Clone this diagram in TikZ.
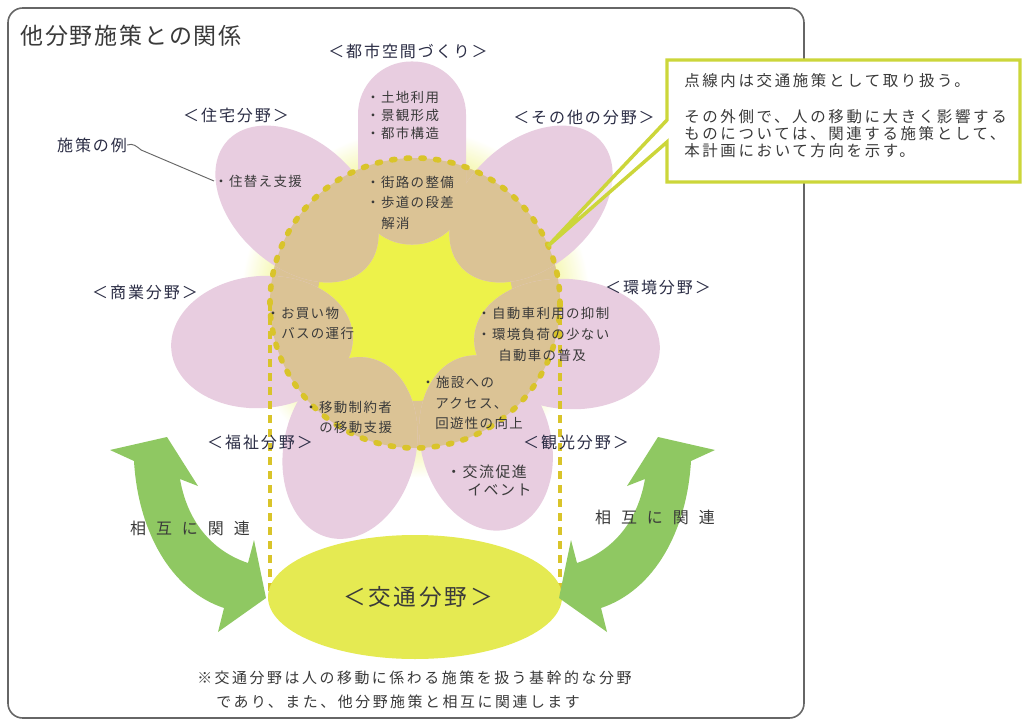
\documentclass[tikz,border=0pt]{standalone}
\usepackage{fontspec}
\setmainfont{Noto Sans CJK JP}
\newfontfamily\jpT[LetterSpace=8]{Noto Sans CJK JP}
\newfontfamily\jpP[LetterSpace=10]{Noto Sans CJK JP}
\newfontfamily\jpL[LetterSpace=12]{Noto Sans CJK JP}
\newfontfamily\jpC[LetterSpace=17]{Noto Sans CJK JP}
\newfontfamily\jpS[LetterSpace=62]{Noto Sans CJK JP}
\definecolor{pinkP}{HTML}{E8CDE0}
\definecolor{tanP}{HTML}{DBC395}
\definecolor{yelS}{HTML}{EDF24A}
\definecolor{glowY}{HTML}{F6F8B8}
\definecolor{kotsu}{HTML}{E5EA52}
\definecolor{greenA}{HTML}{8FC862}
\definecolor{dotc}{HTML}{D9C42A}
\definecolor{callc}{HTML}{CCD63A}
\definecolor{txtc}{HTML}{3A3A3A}
\definecolor{labc}{HTML}{2B2D45}
\definecolor{framec}{HTML}{666666}
\pgfdeclareradialshading{glowshade}{\pgfpointorigin}{color(0bp)=(glowY); color(20.7bp)=(glowY); color(25bp)=(white); color(50bp)=(white)}
\tikzset{
  lab/.style={font=\jpL\fontsize{12}{14}\selectfont, text=labc, inner sep=0pt},
  ptx/.style={font=\jpP\fontsize{10.1}{12}\selectfont, text=txtc, inner sep=0pt, anchor=west},
  ptxb/.style={font=\jpP\fontsize{11.2}{13}\selectfont, text=txtc, inner sep=0pt, anchor=west},
  ctx/.style={font=\jpC\fontsize{11.6}{13}\selectfont, text=txtc, inner sep=0pt, anchor=west},
  btx/.style={font=\jpC\fontsize{11.2}{13}\selectfont, text=txtc, inner sep=0pt, anchor=west},
  rel/.style={font=\jpS\fontsize{12}{14}\selectfont, text=txtc, inner sep=0pt},
  petalpink/.style={fill=pinkP},
  petaltan/.style={fill=tanP},
  greenarrow/.style={fill=greenA},
  dotline/.style={draw=dotc, line width=4.2pt, dash pattern=on 2.4pt off 8.6pt, line cap=round},
  dashline/.style={draw=dotc, line width=3pt, dash pattern=on 6pt off 4.5pt}
}
\newcommand\petalCaps[6]{\path[#1, shift={(#2,#3)}, rotate=#4, rounded corners={0.3675pt*#6}] (-#5/2,-#6/2) rectangle (#5/2,#6/2);}
\newcommand\petalOval[6]{\path[#1, shift={(#2,#3)}, rotate=#4] (0,0) ellipse [x radius=#5/2, y radius=#6/2];}
\newcommand\allpetals[1]{%
  \petalCaps{#1}{412}{153}{90}{183}{108}
  \petalOval{#1}{297}{204}{138}{188}{126}
  \petalOval{#1}{531}{204}{42}{188}{126}
  \petalOval{#1}{262}{342}{185}{182}{132}
  \petalOval{#1}{567}{344}{-5}{186}{130}
  \petalOval{#1}{350}{448}{257}{184}{132}
  \petalOval{#1}{486}{443}{285}{178}{130}}
\begin{document}
\begin{tikzpicture}[x=0.75pt,y=-0.75pt]
\useasboundingbox (0,0) rectangle (1029,724);
\fill[white] (0,0) rectangle (1029,724);
% frame
\draw[framec, line width=1.2pt, rounded corners=11pt] (8,8) rectangle (804,718);
% title
\node[font=\jpT\fontsize{17.25}{20}\selectfont, text=txtc, inner sep=0pt, anchor=west] (title) at (20,36) {他分野施策との関係};
% glow and disc
\shade[shading=glowshade] (415,303) circle [radius=175];
\fill[yelS] (415,303) circle [radius=145];
\fill[tanP, even odd rule] (415,303) circle [radius=145] (415,303) circle [radius=98];
% petals
\allpetals{petalpink}
\begin{scope}
  \clip (415,303) circle [radius=145];
  \allpetals{petaltan}
\end{scope}
% dashed verticals
\draw[dashline] (270,303) -- (270,597);
\draw[dashline] (560,303) -- (560,597);
% kotsu ellipse
\fill[kotsu] (415,597) ellipse [x radius=147, y radius=62];
\node[font=\jpL\fontsize{17}{20}\selectfont, text=txtc, inner sep=0pt] (kotsuL) at (418,597) {＜交通分野＞};
% dotted circle
\draw[dotline] (415,303) circle [radius=145];
% green arrows
\path[greenarrow] (167,437) -- (198,486) -- (180,479) .. controls (188,525) and (215,552) .. (248,563) -- (254,540) -- (266,598) -- (218,632) -- (224,608) .. controls (170,590) and (138,530) .. (134,461) -- (110,450) -- cycle;
\begin{scope}[shift={(825,0)}, xscale=-1]
\path[greenarrow] (167,437) -- (198,486) -- (180,479) .. controls (188,525) and (215,552) .. (248,563) -- (254,540) -- (266,598) -- (218,632) -- (224,608) .. controls (170,590) and (138,530) .. (134,461) -- (110,450) -- cycle;
\end{scope}
\node[rel] (relL) at (190,528) {相互に関連};
\node[rel] (relR) at (655,517) {相互に関連};
% labels
\node[lab] (lToshi) at (408,51) {＜都市空間づくり＞};
\node[lab] (lJutaku) at (236,115) {＜住宅分野＞};
\node[lab] (lSonota) at (584,117) {＜その他の分野＞};
\node[lab] (lShogyo) at (145,292) {＜商業分野＞};
\node[lab] (lKankyo) at (658,287) {＜環境分野＞};
\node[lab] (lFukushi) at (260,442) {＜福祉分野＞};
\node[lab] (lKanko) at (576,442) {＜観光分野＞};
\node[lab] (ex) at (92,145) {施策の例};
% petal texts
\node[ptx] (t1) at (366,97) {・土地利用};
\node[ptx] (t2) at (366,115) {・景観形成};
\node[ptx] (t3) at (366,133) {・都市構造};
\node[ptx] (t4) at (366,182) {・街路の整備};
\node[ptx] (t5) at (366,202) {・歩道の段差};
\node[ptx] (t6) at (381,223) {解消};
\node[ptx] (sumi) at (214,181) {・住替え支援};
\node[ptx] (s1) at (266,313) {・お買い物};
\node[ptx] (s2) at (281,333) {バスの運行};
\node[ptx] (k1) at (477,313) {・自動車利用の抑制};
\node[ptx] (k2) at (477,334) {・環境負荷の少ない};
\node[ptx] (k3) at (498,355) {自動車の普及};
\node[ptx] (f1) at (304,407) {・移動制約者};
\node[ptx] (f2) at (319,427) {の移動支援};
\node[ptx] (a1) at (421,382) {・施設への};
\node[ptx] (a2) at (435,403) {アクセス、};
\node[ptx] (a3) at (435,423) {回遊性の向上};
\node[ptxb] (e1) at (446,472) {・交流促進};
\node[ptxb] (e2) at (467,490) {イベント};
% leader
\draw[framec, line width=0.7pt] (ex.east) .. controls +(6,-2) and +(-5,-4) .. ++(14,5) -- (sumi.west);
% callout
\fill[white, opacity=0.55] (667,120) -- (548,246) -- (667,142) -- cycle;
\fill[white] (667,60) rectangle (1020,182);
\draw[callc, line width=2.6pt, line join=miter] (667,60) -- (1020,60) -- (1020,182) -- (667,182) -- (667,142) -- (548,246) -- (667,120) -- cycle;
\node[ctx] (c1) at (684,81) {点線内は交通施策として取り扱う。};
\node[ctx] (c2) at (684,117) {その外側で、人の移動に大きく影響する};
\node[ctx] (c3) at (684,134) {ものについては、関連する施策として、};
\node[ctx] (c4) at (684,151) {本計画において方向を示す。};
% bottom text
\node[btx] (b1) at (197,678) {※交通分野は人の移動に係わる施策を扱う基幹的な分野};
\node[btx] (b2) at (216,702) {であり、また、他分野施策と相互に関連します};
\end{tikzpicture}
\end{document}
